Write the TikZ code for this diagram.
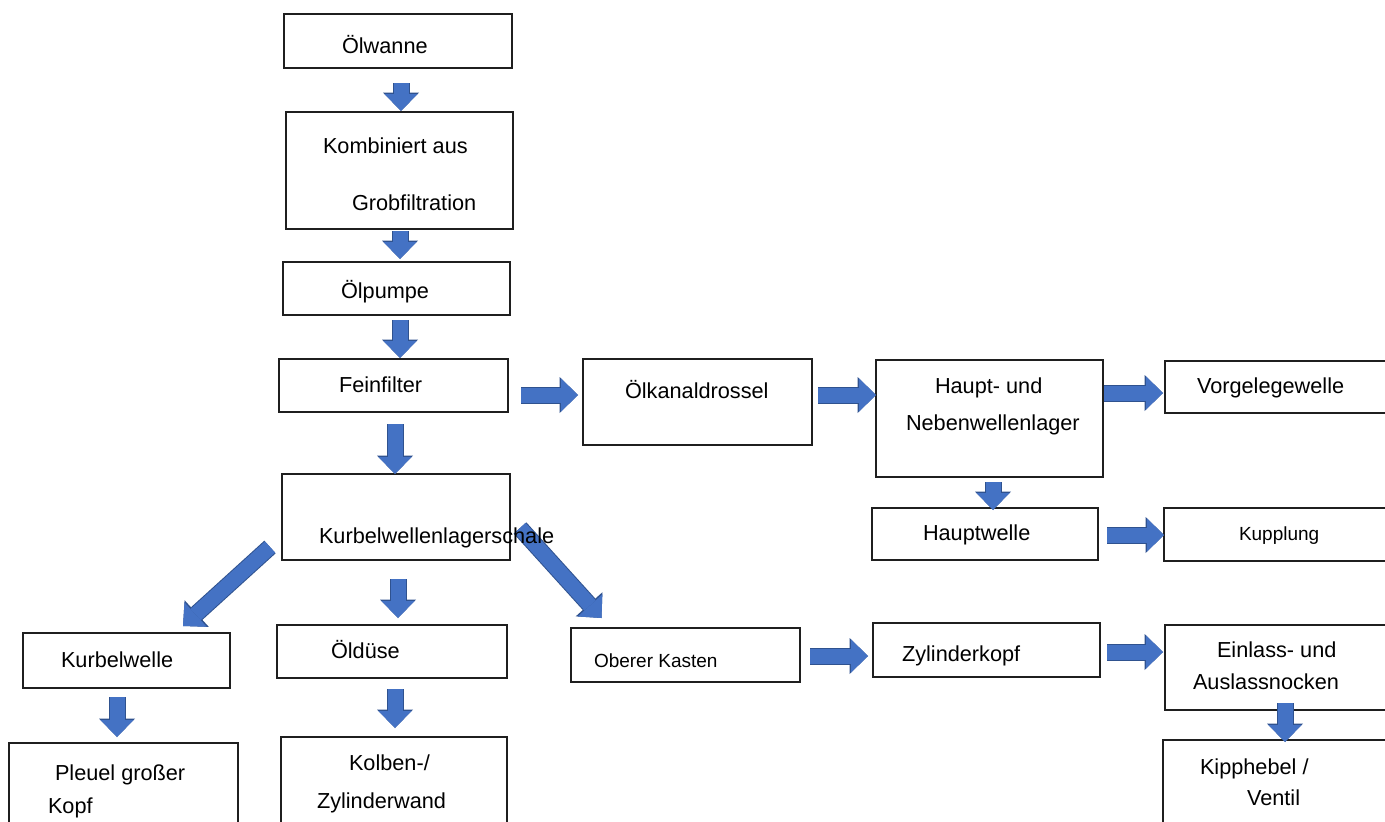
\documentclass[tikz,border=0pt]{standalone}
\usepackage{fontspec}
\setmainfont{Liberation Sans}
\usetikzlibrary{arrows.meta,calc}
\definecolor{ablue}{HTML}{4472C4}
\definecolor{aedge}{HTML}{2F528F}
\newcommand\mybox[5]{\node[box,minimum width=#4pt,minimum height=#5pt] (#1) at (#2,#3) {};}
\begin{document}
\begin{tikzpicture}[x=1pt,y=-1pt,
  box/.style={draw=black!88, line width=1.4pt, inner sep=0pt, outer sep=0pt, rectangle},
  txt/.style={inner sep=0pt, outer sep=0pt, anchor=base west, font=\fontsize{21.7}{26}\selectfont},
  stxt/.style={txt, font=\fontsize{19}{23}\selectfont},
  fat/.style={draw=ablue, line width=15pt,
    -{Triangle[width=33pt,length=17pt,line width=0pt]},
    preaction={draw=aedge, line width=17pt, -{Triangle[width=36pt,length=18.5pt,line width=0pt]}}}
]
\useasboundingbox (0,0) rectangle (1385,822);
\clip (0,0) rectangle (1385,822);
\fill[white] (0,0) rectangle (1385,822);

% boxes
\mybox{olw}{398}{41}{228}{54}
\mybox{komb}{399.5}{170.5}{227}{117}
\mybox{pump}{396.5}{288.5}{227}{53}
\mybox{fein}{393.5}{385.5}{229}{53}
\mybox{kurb}{396}{517}{228}{86}
\mybox{dros}{697.5}{402}{229}{86}
\mybox{haupt}{989.5}{418.5}{227}{117}
\mybox{vorg}{1282.5}{387}{235}{52}
\mybox{hwel}{985}{534}{226}{52}
\mybox{kupp}{1282}{534.5}{236}{53}
\mybox{kwel}{126.5}{660.5}{207}{55}
\mybox{pleu}{123.5}{786.5}{229}{87}
\mybox{dues}{392}{651.5}{230}{53}
\mybox{kolb}{394}{783.5}{226}{93}
\mybox{ober}{685.5}{655}{229}{54}
\mybox{zkop}{986.5}{650}{227}{54}
\mybox{einl}{1282.5}{667.5}{235}{85}
\mybox{kipp}{1281.5}{785}{237}{90}

% block arrows
\draw[fat] ($(olw.south)+(3,15)$) -- ($(komb.north)+(1.5,-1)$);
\draw[fat] ($(komb.south)+(0.5,2)$) -- ($(pump.north)+(3.5,-3)$);
\draw[fat] ($(pump.south)+(3.5,5)$) -- ($(fein.north)+(6.5,-1)$);
\draw[fat] ($(fein.south)+(1.5,12)$) -- ($(kurb.north)+(-1,0)$);
\draw[fat] ($(fein.east)+(13,9.5)$) -- ($(dros.west)+(-5,-7)$);
\draw[fat] ($(dros.east)+(6,-7)$) -- ($(haupt.west)+(0,-23.5)$);
\draw[fat] ($(haupt.east)+(1,-25.5)$) -- ($(vorg.west)+(-2,6)$);
\draw[fat] ($(haupt.south)+(3.5,5)$) -- ($(hwel.north)+(8,2)$);
\draw[fat] ($(hwel.east)+(9,1)$) -- ($(kupp.west)+(0,0.5)$);
\draw[fat] ($(kurb.west)+(-12,30)$) -- ($(kwel.north)+(56.5,-7)$);
\draw[fat] ($(kurb.south)+(2,19)$) -- ($(dues.north)+(6,-7)$);
\draw[fat] ($(kurb.east)+(10,11)$) -- ($(ober.north)+(-84,-10)$);
\draw[fat] ($(kwel.south)+(-9.5,9)$) -- ($(pleu.north)+(-6.5,-6)$);
\draw[fat] ($(dues.south)+(3,11)$) -- ($(kolb.north)+(1,-9)$);
\draw[fat] ($(ober.east)+(10,1)$) -- ($(zkop.west)+(-5,6)$);
\draw[fat] ($(zkop.east)+(7,2)$) -- ($(einl.west)+(-2,-15.5)$);
\draw[fat] ($(einl.south)+(2.5,-7)$) -- ($(kipp.north)+(3.5,2)$);

% texts
\node[txt] (olwT) at (342,53) {Ölwanne};
\node[txt] (kombT1) at (323,153) {Kombiniert aus};
\node[txt] (kombT2) at (352,210) {Grobfiltration};
\node[txt] (pumpT) at (341,298) {Ölpumpe};
\node[txt] (feinT) at (339,392) {Feinfilter};
\node[txt] (kurbT) at (319,543) {Kurbelwellenlagerschale};
\node[txt] (drosT) at (625,398) {Ölkanaldrossel};
\node[txt] (hauptT1) at (935,393) {Haupt- und};
\node[txt] (hauptT2) at (906,430) {Nebenwellenlager};
\node[txt] (vorgT) at (1197,393) {Vorgelegewelle};
\node[txt] (hwelT) at (923,540) {Hauptwelle};
\node[stxt] (kuppT) at (1239,540) {Kupplung};
\node[txt] (kwelT) at (61,667) {Kurbelwelle};
\node[txt] (pleuT1) at (55,780) {Pleuel großer};
\node[txt] (pleuT2) at (48,813) {Kopf};
\node[txt] (duesT) at (331,658) {Öldüse};
\node[txt] (kolbT1) at (349,770) {Kolben-/};
\node[txt] (kolbT2) at (317,808) {Zylinderwand};
\node[stxt] (oberT) at (594,667) {Oberer Kasten};
\node[txt] (zkopT) at (902,661) {Zylinderkopf};
\node[txt] (einlT1) at (1217,657) {Einlass- und};
\node[txt] (einlT2) at (1193,689) {Auslassnocken};
\node[txt] (kippT1) at (1200,774) {Kipphebel /};
\node[txt] (kippT2) at (1247,805) {Ventil};
\end{tikzpicture}
\end{document}
